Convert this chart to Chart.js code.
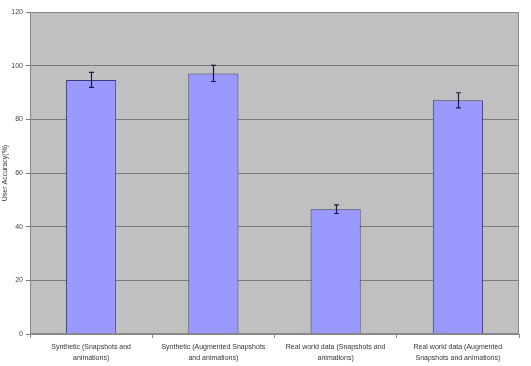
<!DOCTYPE html>
<html><head><meta charset="utf-8">
<script src="https://cdn.jsdelivr.net/npm/chart.js@4/dist/chart.umd.min.js"></script>
<style>html,body{margin:0;padding:0;background:#fff}#wrap{width:531px;height:366px}</style>
</head><body><div id="wrap"><canvas id="c" width="531" height="366"></canvas></div>
<script>
const categories = [
  ["Synthetic (Snapshots and", "animations)"],
  ["Synthetic (Augmented Snapshots", "and animations)"],
  ["Real world data (Snapshots and", "animations)"],
  ["Real world data (Augmented", "Snapshots and animations)"]
];
const accuracy = [94.7, 97.1, 46.5, 87.1];
const errors = [2.8, 3.0, 1.6, 2.8];
const yTicks = [0, 20, 40, 60, 80, 100, 120];

const plotBg = {
  id: 'plotBg',
  beforeDraw(chart) {
    const {ctx, chartArea: a} = chart;
    ctx.save();
    ctx.fillStyle = '#c0c0c0';
    ctx.fillRect(a.left, a.top, a.right - a.left, a.bottom - a.top);
    ctx.restore();
  },
  afterDraw(chart) {
    const {ctx, chartArea: a} = chart;
    ctx.save();
    ctx.strokeStyle = '#888';
    ctx.lineWidth = 1;
    ctx.strokeRect(a.left + 0.5, a.top + 0.5, a.right - a.left - 1, a.bottom - a.top - 1);
    ctx.restore();
  }
};

const errBars = {
  id: 'errBars',
  afterDatasetsDraw(chart) {
    const {ctx} = chart;
    const y = chart.scales.y;
    const meta = chart.getDatasetMeta(0);
    ctx.save();
    ctx.strokeStyle = '#1a1a4a';
    ctx.lineWidth = 1.2;
    meta.data.forEach((bar, i) => {
      const x = Math.round(bar.x) + 0.5;
      const top = y.getPixelForValue(accuracy[i] + errors[i]);
      const bot = y.getPixelForValue(accuracy[i] - errors[i]);
      ctx.beginPath();
      ctx.moveTo(x, top); ctx.lineTo(x, bot);
      ctx.moveTo(x - 2.5, top); ctx.lineTo(x + 2.5, top);
      ctx.moveTo(x - 2.5, bot); ctx.lineTo(x + 2.5, bot);
      ctx.stroke();
    });
    ctx.restore();
  }
};

new Chart(document.getElementById('c'), {
  type: 'bar',
  data: {
    labels: categories,
    datasets: [{
      data: accuracy,
      backgroundColor: '#9999ff',
      borderColor: '#3a3a7a',
      borderWidth: 1,
      categoryPercentage: 0.41,
      barPercentage: 1.0
    }]
  },
  options: {
    responsive: false,
    animation: false,
    devicePixelRatio: 1,
    layout: {padding: {top: 12, right: 12, left: 1, bottom: 0}},
    plugins: {legend: {display: false}, tooltip: {enabled: false}},
    scales: {
      x: {
        grid: {display: true, offset: true, drawOnChartArea: false, color: '#888', tickLength: 4},
        border: {color: '#888'},
        ticks: {color: '#333', font: {family: 'Liberation Sans', size: 7, lineHeight: 1.55}, maxRotation: 0, autoSkip: false, padding: 4},
        afterFit(s) { s.height = 32; }
      },
      y: {
        min: 0, max: 120,
        afterBuildTicks(s) { s.ticks = yTicks.map(v => ({value: v})); },
        grid: {color: '#7a7a7a', tickLength: 4},
        border: {color: '#888'},
        ticks: {color: '#444', font: {family: 'Liberation Sans', size: 7}, padding: 3},
        title: {display: true, text: 'User Accuracy(%)', color: '#333', font: {family: 'Liberation Sans', size: 7}, padding: 0},
        afterFit(s) { s.width = 29; }
      }
    }
  },
  plugins: [plotBg, errBars]
});
</script></body></html>
